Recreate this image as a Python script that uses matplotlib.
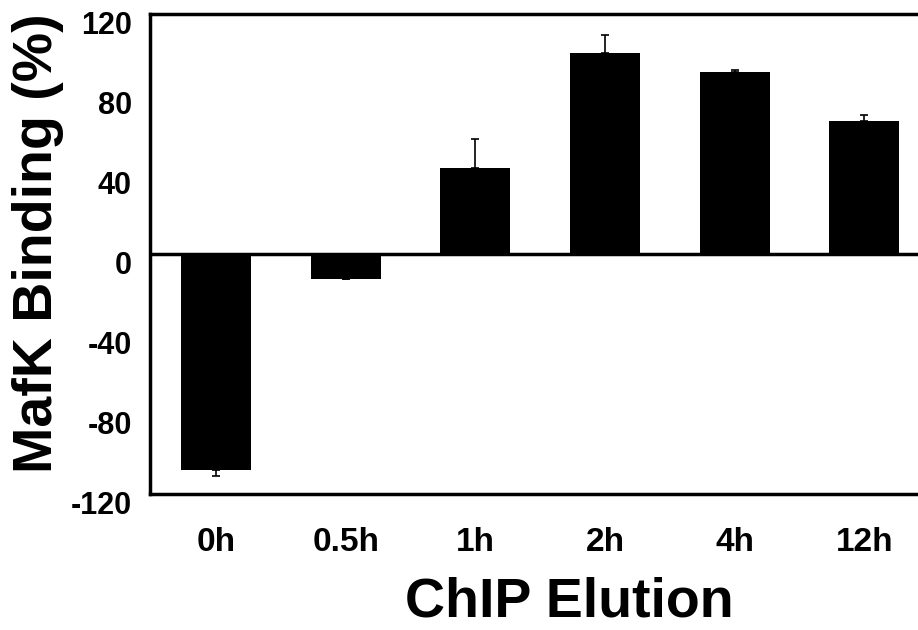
import matplotlib.pyplot as plt
import matplotlib.transforms as mtransforms
import numpy as np

# values
timepoints = ["0h", "0.5h", "1h", "2h", "4h", "12h"]
binding = [-108, -12.5, 43, 100.5, 91, 66.5]
err_low = [3, 0, 0, 0, 0, 0]
err_high = [0, 0, 14.5, 9, 1, 3]
yticks = [-120, -80, -40, 0, 40, 80, 120]

plt.rcParams["font.family"] = ["Liberation Sans", "DejaVu Sans"]
plt.rcParams["font.weight"] = "bold"

fig = plt.figure(figsize=(9.18, 6.3), dpi=100)
ax = fig.add_axes([150 / 918, 1 - 494 / 630, 1 - 150 / 918, 480 / 630])

x = np.arange(len(timepoints))
ax.bar(x, binding, width=0.54, color="black", zorder=2)
ax.errorbar(x, binding, yerr=[err_low, err_high], fmt="none", ecolor="black",
            elinewidth=1.2, capsize=3, capthick=1.2, zorder=3)
ax.axhline(0, color="black", lw=2.5, zorder=4)

ax.set_xlim(-0.509, 5.413)
ax.set_ylim(-120, 120)
ax.set_xticks(x)
ax.set_xticklabels(timepoints, fontsize=24, fontweight="bold")
ax.set_yticks(yticks)
ax.set_yticklabels([str(v) for v in yticks], fontsize=22, fontweight="bold")
ax.tick_params(axis="x", length=0, pad=24)
ax.tick_params(axis="y", length=0, pad=13)

offset = mtransforms.ScaledTranslation(0, -8 / 100, fig.dpi_scale_trans)
for lab in ax.get_yticklabels():
    lab.set_transform(lab.get_transform() + offset)

for side in ["left", "top", "bottom"]:
    ax.spines[side].set_linewidth(2.5)
ax.spines["right"].set_visible(False)

ax.set_ylabel("MafK Binding (%)", fontsize=40, fontweight="bold")
ax.yaxis.set_label_coords(-0.112, 0.523)
ax.set_xlabel("ChIP Elution", fontsize=40, fontweight="bold")
ax.xaxis.set_label_coords(0.5456, -0.172)

fig.savefig("out.png", dpi=100)
